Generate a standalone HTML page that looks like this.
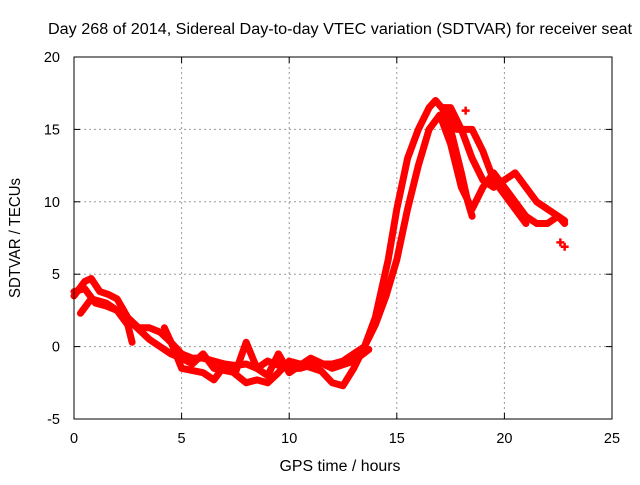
<!DOCTYPE html>
<html><head><meta charset="utf-8"><style>
body{margin:0;background:#fff}
svg{font-family:"Liberation Sans",sans-serif}
</style></head><body>
<svg width="640" height="480" id="c">
<text x="340" y="34" text-anchor="middle" font-size="15.5" textLength="584" lengthAdjust="spacingAndGlyphs">Day 268 of 2014, Sidereal Day-to-day VTEC variation (SDTVAR) for receiver seat</text>
<text x="340" y="471" text-anchor="middle" font-size="15.5" textLength="121" lengthAdjust="spacingAndGlyphs">GPS time / hours</text>
<text transform="translate(20,238) rotate(-90)" text-anchor="middle" font-size="15.5" textLength="120" lengthAdjust="spacingAndGlyphs">SDTVAR / TECUs</text>
<g id="grid"></g><g id="data"></g>
<rect x="74" y="57" width="538" height="362" fill="none" stroke="#000"/>
<g id="ticks"></g>
</svg>
<script>
const xTicks=[0,5,10,15,20,25];
const yTicks=[-5,0,5,10,15,20];
const seriesA=[[0,3.5],[0.5,4.5],[0.8,4.7],[1.2,3.8],[1.6,3.6],[2,3.3],[2.5,2.0],[3,1.3],[3.5,1.3],[4,1.0],[4.5,0.3],[5,-0.5],[5.5,-0.8],[6,-0.8],[6.5,-1.0],[7,-1.2],[7.5,-1.3],[8,-1.2],[8.5,-1.5],[9,-1.0],[9.5,-1.3],[10,-1.5],[10.5,-1.5],[11,-1.3],[11.5,-1.2],[12,-1.2],[12.5,-1.0],[13,-0.5],[13.5,0],[14,2],[14.3,4],[14.6,6],[15,9.5],[15.5,13],[16,15],[16.5,16.5],[16.8,17],[17.2,16.3],[17.5,15],[18,12],[18.3,10],[18.5,9]];
const seriesB=[[0,3.8],[0.5,4],[1,3],[1.5,2.8],[2,2.5],[2.5,1.5],[2.7,0.3]];
const seriesC=[[4.2,1.3],[4.6,0],[5,-1.5],[6,-1.8],[6.5,-2.3],[7,-1.3],[8,-2.5],[8.5,-2.3],[9,-2.5],[9.5,-1.8],[10,-1.0],[10.5,-1.2],[11.5,-1.7],[12,-2.5],[12.5,-2.7],[13,-1.5],[13.5,0],[14,1.5],[14.5,3.5],[15,6],[15.5,9.5],[16,12.5],[16.5,15],[17,16],[17.5,14],[18,11],[18.5,9.5],[19,11],[19.5,12],[20,11],[20.5,10],[21,9],[21.5,8.5],[22,8.5],[22.5,9],[22.8,8.5]];
const seriesD=[[17.2,16.5],[17.5,16.5],[18,15],[18.5,13],[19,11.5],[19.5,11],[20,11.5],[20.5,12],[21,11],[21.5,10],[22,9.5],[22.5,9],[22.8,8.7]];
const seriesE=[[17.2,16.5],[17.5,15.8],[17.8,15],[18.5,15],[19,13.5],[19.5,11.5],[20,10.5],[20.5,9.5],[21,8.5]];
const seriesF=[[0.3,2.3],[0.8,3.3],[1.5,3],[2.2,2.3],[3,1.2],[3.5,0.5],[4,0],[4.5,-0.5],[5,-0.8],[5.5,-1.2],[6,-0.5],[6.5,-1.5],[7.5,-1.8],[8,0.3],[8.5,-1.5],[9,-2],[9.5,-0.5],[10,-1.8],[11,-0.8],[12,-1.5],[13,-1],[13.7,-0.2]];
const isolated=[[22.6,7.2],[22.8,6.9],[18.2,16.3]];
const X=v=>74+v*538/25, Y=v=>419-(v+5)*362/25;
const NS="http://www.w3.org/2000/svg";
const grid=document.getElementById('grid'),ticks=document.getElementById('ticks'),dg=document.getElementById('data');
function mk(tag,attrs,parent){const e=document.createElementNS(NS,tag);for(const k in attrs)e.setAttribute(k,attrs[k]);parent.appendChild(e);return e;}
xTicks.forEach(t=>{
 if(t>0&&t<25){const g=mk('line',{x1:X(t),x2:X(t),y1:57,y2:419,stroke:'#999','stroke-dasharray':'2,3'},grid);
 
 }
 mk('line',{x1:X(t),x2:X(t),y1:419,y2:413,stroke:'#000'},ticks);
 mk('line',{x1:X(t),x2:X(t),y1:57,y2:63,stroke:'#000'},ticks);
 const l=mk('text',{x:X(t),y:443,'text-anchor':'middle','font-size':14.5},ticks);l.textContent=t;
 
 
});
yTicks.forEach(t=>{
 if(t>-5&&t<20){const g=mk('line',{x1:74,x2:612,y1:Y(t),y2:Y(t),stroke:'#999','stroke-dasharray':'2,3'},grid);
 
 }
 mk('line',{x1:74,x2:80,y1:Y(t),y2:Y(t),stroke:'#000'},ticks);
 mk('line',{x1:612,x2:606,y1:Y(t),y2:Y(t),stroke:'#000'},ticks);
 const l=mk('text',{x:60,y:Y(t)+5,'text-anchor':'end','font-size':14.5},ticks);l.textContent=t;
 
 
});
[seriesA,seriesB,seriesC,seriesD,seriesE,seriesF].forEach((s,i)=>{
 const p=mk('polyline',{points:s.map(d=>X(d[0])+','+Y(d[1])).join(' '),fill:'none',stroke:'#f00','stroke-width':7,'stroke-linejoin':'round','stroke-linecap':'round'},dg);
 
 
});
isolated.forEach(d=>{
 const p=mk('path',{d:`M${X(d[0])-4},${Y(d[1])}h8M${X(d[0])},${Y(d[1])-4}v8`,stroke:'#f00','stroke-width':2.5},dg);
 
 
});
</script>
</body></html>
